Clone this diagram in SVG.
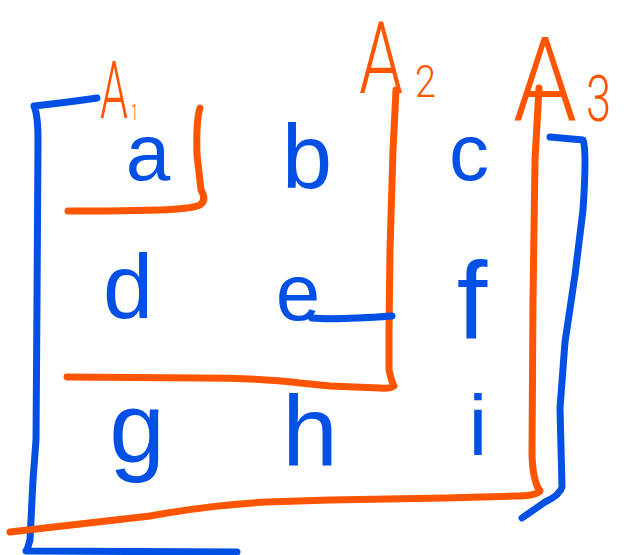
<svg xmlns="http://www.w3.org/2000/svg" width="624" height="555" viewBox="0 0 624 555">
<style>
.blue{fill:none;stroke:#0050E6;stroke-width:7;stroke-linecap:round;stroke-linejoin:round}
.orange{fill:none;stroke:#FF5500;stroke-width:7;stroke-linecap:round;stroke-linejoin:round}
.ltr{fill:#0050E6;font-family:"Liberation Sans","DejaVu Sans",sans-serif;text-anchor:middle}
.lbl{fill:#FF5500;font-family:Roboto,"Liberation Sans",sans-serif;font-weight:300}
</style>
<rect width="624" height="555" fill="#ffffff"/>
<g id="connectors">
  <path id="bracket-left" class="blue" d="M 97,98 Q 70,102 34,106 Q 38,115 38,140 L 37,300 L 36,440 L 33,480 L 30,540 L 27,550 M 26,551 L 237,552"/>
  <path id="box-A1" class="orange" d="M 200,108 Q 196,120 197,155 L 201,190 Q 207,200 200,205 Q 190,209 160,210 L 110,211 L 68,211"/>
  <path id="box-A2" class="orange" d="M 396,90 L 393,150 L 390,250 L 389,330 L 389,370 Q 392,383 394,386 Q 390,389 380,388 L 330,386 L 300,383 Q 260,378 200,378 L 67,377"/>
  <path id="line-e" class="blue" d="M 312,318 Q 335,320 392,316"/>
  <path id="box-A3" class="orange" d="M 539,88 L 535,160 L 533,300 L 532,455 Q 533,482 540,491 Q 536,496 515,496 L 445,498 L 330,500 L 267,502 Q 210,505 150,516 L 10,532"/>
  <path id="bracket-right" class="blue" d="M 550,137 L 583,140 Q 587,150 583,210 L 575,275 L 565,342 L 560,408 L 562,487 Q 560,495 545,502 L 522,518"/>
</g>
<g id="label-A1"><text class="lbl" x="100" y="118" font-size="80" textLength="28" lengthAdjust="spacingAndGlyphs">A</text><text class="lbl" x="131" y="120" font-size="22" textLength="7" lengthAdjust="spacingAndGlyphs">1</text></g>
<g id="label-A2"><text class="lbl" x="359" y="93" font-size="100" textLength="44" lengthAdjust="spacingAndGlyphs">A</text><text class="lbl" x="415" y="97" font-size="44" textLength="21" lengthAdjust="spacingAndGlyphs">2</text></g>
<g id="label-A3"><text class="lbl" x="513" y="120" font-size="116" textLength="64" lengthAdjust="spacingAndGlyphs">A</text><text class="lbl" x="586" y="121" font-size="64" textLength="25" lengthAdjust="spacingAndGlyphs">3</text></g>
<g id="cell-a"><text class="ltr" x="148" y="180" font-size="80">a</text></g>
<g id="cell-b"><text class="ltr" x="307" y="188" font-size="90">b</text></g>
<g id="cell-c"><text class="ltr" x="469" y="180" font-size="80">c</text></g>
<g id="cell-d"><text class="ltr" x="128" y="318" font-size="90">d</text></g>
<g id="cell-e"><text class="ltr" x="298" y="320" font-size="80">e</text></g>
<g id="cell-f"><text class="ltr" x="472" y="338" font-size="110">f</text></g>
<g id="cell-g"><text class="ltr" x="137" y="462" font-size="100">g</text></g>
<g id="cell-h"><text class="ltr" x="310" y="466" font-size="100">h</text></g>
<g id="cell-i"><text class="ltr" x="478" y="455" font-size="85">i</text></g>
</svg>
